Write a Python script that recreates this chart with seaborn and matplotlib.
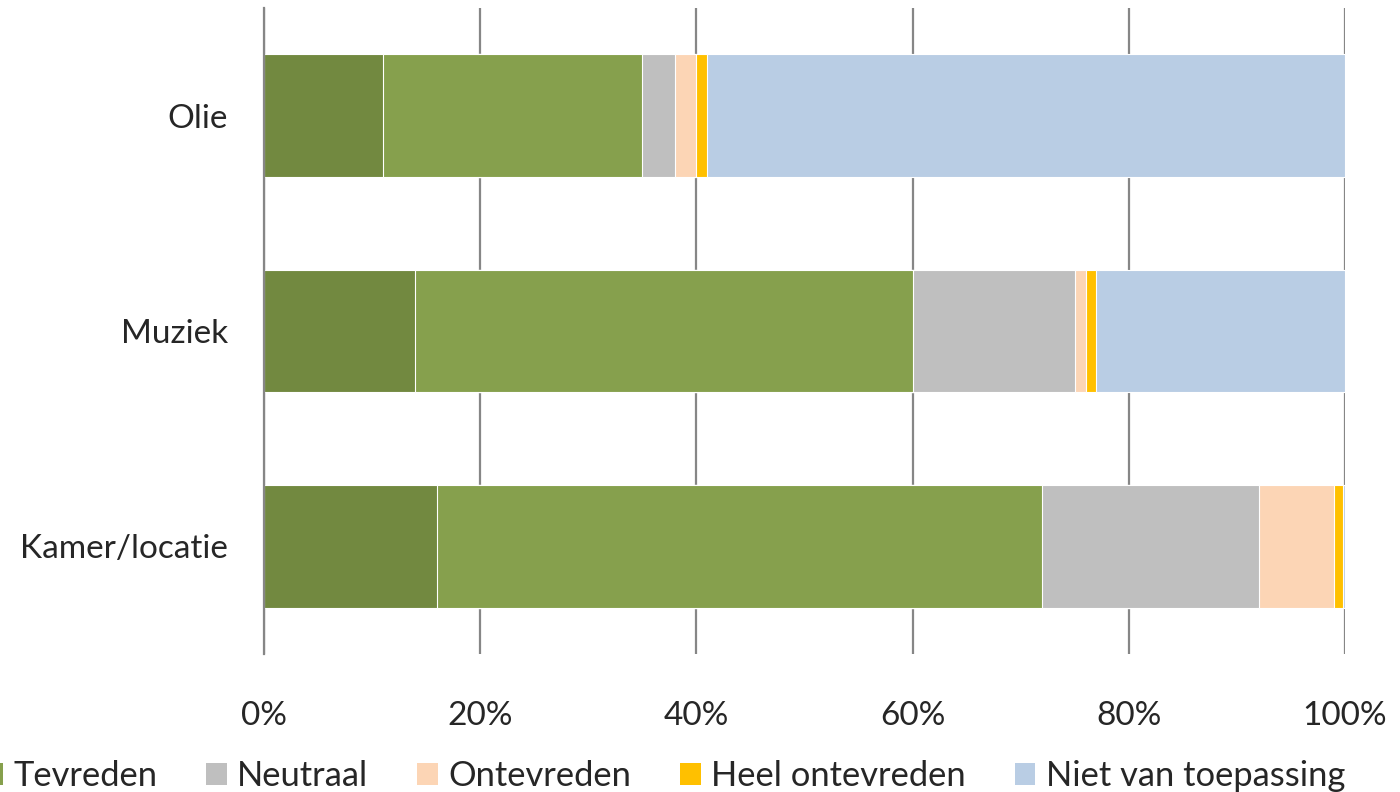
import matplotlib
matplotlib.use("Agg")
import matplotlib.pyplot as plt
from matplotlib.patches import Patch
import seaborn as sns
import pandas as pd

# data (percent of respondents)
categories = ["Olie", "Muziek", "Kamer/locatie"]
series_names = ["Zeer tevreden", "Tevreden", "Neutraal", "Ontevreden",
                "Heel ontevreden", "Niet van toepassing"]
zeer_tevreden = [11, 14, 16]
tevreden = [24, 46, 56]
neutraal = [3, 15, 20]
ontevreden = [2, 1, 7]
heel_ontevreden = [1, 1, 0.8]
niet_van_toepassing = [59, 23, 0.2]
colors = ["#728940", "#86A04D", "#BFBFBF", "#FCD5B5", "#FFC000", "#B9CDE4"]
x_ticks = [0, 20, 40, 60, 80, 100]

df = pd.DataFrame({
    "categorie": categories,
    "Zeer tevreden": zeer_tevreden,
    "Tevreden": tevreden,
    "Neutraal": neutraal,
    "Ontevreden": ontevreden,
    "Heel ontevreden": heel_ontevreden,
    "Niet van toepassing": niet_van_toepassing,
})
cum = df[series_names].cumsum(axis=1)

sns.set_theme(style="white")
plt.rcParams["font.family"] = ["Lato", "DejaVu Sans"]
FS = 24

fig = plt.figure(figsize=(14, 7.92), dpi=100)
ax = fig.add_axes([0.1886, 0.1742, 0.7721, 0.8157])

# stacked bars: draw cumulative totals from the last series backwards
for name, col in reversed(list(zip(series_names, colors))):
    sns.barplot(x=cum[name], y=df["categorie"], color=col, width=0.57,
                saturation=1, orient="h", edgecolor="white", linewidth=0.8,
                ax=ax, zorder=3)

ax.set_xlim(0, 100)
ax.set_xticks(x_ticks)
ax.set_xticklabels([f"{t}%" for t in x_ticks], fontsize=FS)
ax.tick_params(axis="x", pad=34, length=0)
ax.tick_params(axis="y", labelsize=FS, pad=26, length=0)
ax.set_xlabel("")
ax.set_ylabel("")
ax.grid(axis="x", color="#868686", linewidth=1.6, zorder=0)
ax.set_axisbelow(True)
for s in ["top", "right", "bottom"]:
    ax.spines[s].set_visible(False)
ax.spines["left"].set_color("#868686")
ax.spines["left"].set_linewidth(1.6)
ax.spines["left"].set_zorder(4)

# legend is wider than the figure: anchored on its right end, left end runs off
handles = [Patch(facecolor=c, edgecolor="none") for c in colors]
fig.legend(handles, series_names, loc="lower right", bbox_to_anchor=(0.9607, 0.0),
           ncol=6, frameon=False, fontsize=24.8, handlelength=0.6, handleheight=0.6,
           handletextpad=0.3, columnspacing=1.42, borderaxespad=0, borderpad=0)

fig.savefig("out.png", dpi=100)
